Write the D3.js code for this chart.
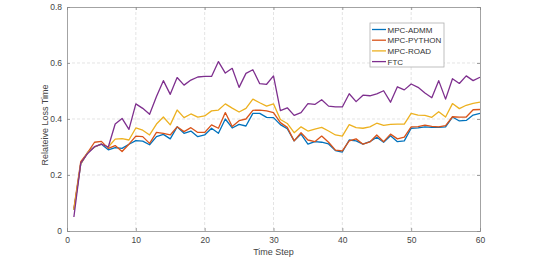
<!DOCTYPE html>
<html lang="en">
<head>
<meta charset="utf-8" />
<script src="https://d3js.org/d3.v7.min.js"></script>
<style>
  body { margin: 0; background: #fff; }
  svg text { font-family: "Liberation Sans", Arial, sans-serif; fill: #444; }
</style>
</head>
<body>
<svg id="chart" width="534" height="275"></svg>
<script>
// values, time steps 1..60
const steps = d3.range(1, 61);
const mpcAdmm = [0.075,0.24,0.28,0.30,0.31,0.29,0.298,0.295,0.31,0.323,
  0.321,0.308,0.337,0.345,0.329,0.372,0.349,0.357,0.337,0.343,
  0.367,0.349,0.40,0.368,0.381,0.375,0.42,0.42,0.406,0.405,
  0.38,0.365,0.322,0.346,0.31,0.319,0.317,0.311,0.287,0.282,
  0.325,0.322,0.31,0.319,0.335,0.317,0.34,0.319,0.322,0.367,
  0.368,0.372,0.370,0.370,0.372,0.407,0.393,0.395,0.414,0.42];
const mpcPython = [0.08,0.248,0.28,0.317,0.32,0.295,0.305,0.284,0.31,0.339,
  0.337,0.313,0.352,0.349,0.343,0.372,0.355,0.369,0.352,0.352,
  0.379,0.367,0.423,0.373,0.394,0.40,0.431,0.432,0.429,0.423,
  0.387,0.37,0.322,0.351,0.325,0.319,0.339,0.317,0.289,0.286,
  0.322,0.329,0.31,0.318,0.343,0.319,0.346,0.329,0.335,0.372,
  0.373,0.378,0.374,0.372,0.376,0.408,0.407,0.407,0.433,0.434];
const mpcRoad = [0.075,0.24,0.28,0.30,0.31,0.30,0.328,0.33,0.325,0.368,
  0.36,0.343,0.382,0.407,0.379,0.432,0.405,0.418,0.407,0.411,
  0.429,0.432,0.454,0.439,0.425,0.438,0.471,0.458,0.446,0.454,
  0.398,0.384,0.351,0.372,0.357,0.364,0.37,0.357,0.343,0.339,
  0.38,0.369,0.367,0.372,0.385,0.377,0.381,0.382,0.382,0.42,
  0.414,0.413,0.406,0.426,0.407,0.455,0.437,0.449,0.456,0.46];
const ftc = [0.05,0.242,0.277,0.301,0.31,0.30,0.382,0.402,0.363,0.454,
  0.438,0.417,0.48,0.537,0.488,0.548,0.521,0.539,0.55,0.552,
  0.552,0.605,0.564,0.581,0.513,0.563,0.576,0.526,0.524,0.554,
  0.43,0.44,0.413,0.423,0.455,0.452,0.469,0.446,0.443,0.443,
  0.49,0.462,0.485,0.483,0.49,0.501,0.46,0.515,0.504,0.525,
  0.513,0.493,0.476,0.537,0.471,0.544,0.527,0.554,0.537,0.549];

const seriesNames = ["MPC-ADMM", "MPC-PYTHON", "MPC-ROAD", "FTC"];
const seriesValues = [mpcAdmm, mpcPython, mpcRoad, ftc];
const seriesColors = ["#0072BD", "#D95319", "#EDB120", "#7E2F8E"];
const xTicks = [0, 10, 20, 30, 40, 50, 60];
const yTicks = [0, 0.2, 0.4, 0.6, 0.8];

const svg = d3.select("#chart");
const margin = {top: 7, right: 54, bottom: 44, left: 67};
const w = 534 - margin.left - margin.right;
const h = 275 - margin.top - margin.bottom;
const g = svg.append("g").attr("transform", "translate(" + margin.left + "," + margin.top + ")");

const x = d3.scaleLinear().domain([0, 60]).range([0, w]);
const y = d3.scaleLinear().domain([0, 0.8]).range([h, 0]);

// grid
g.append("g").selectAll("line.vg").data(xTicks.slice(1, -1)).join("line")
  .attr("x1", d => x(d)).attr("x2", d => x(d)).attr("y1", 0).attr("y2", h)
  .attr("stroke", "#d9d9d9").attr("stroke-width", 0.7).attr("stroke-dasharray", "3,2");
g.append("g").selectAll("line.hg").data(yTicks.slice(1, -1)).join("line")
  .attr("x1", 0).attr("x2", w).attr("y1", d => y(d)).attr("y2", d => y(d))
  .attr("stroke", "#d9d9d9").attr("stroke-width", 0.7).attr("stroke-dasharray", "3,2");

// axes (ticks inward like matlab)
const bottomAxis = d3.axisBottom(x).tickValues(xTicks).tickSize(-3).tickPadding(6).tickFormat(d3.format("d"));
const leftAxis = d3.axisLeft(y).tickValues(yTicks).tickSize(-3).tickPadding(5).tickFormat(d => d === 0 ? "0" : d3.format(".1f")(d));
const topAxis = d3.axisTop(x).tickValues(xTicks).tickSize(-3).tickFormat("");
const rightAxis = d3.axisRight(y).tickValues(yTicks).tickSize(-3).tickFormat("");

[[bottomAxis, "translate(0," + h + ")"], [leftAxis, null], [topAxis, null], [rightAxis, "translate(" + w + ",0)"]]
  .forEach(([ax, tr]) => {
    const a = g.append("g").call(ax);
    if (tr) a.attr("transform", tr);
    a.selectAll("path.domain").attr("stroke", "#8c8c8c").attr("stroke-width", 0.8);
    a.selectAll("line").attr("stroke", "#8c8c8c").attr("stroke-width", 0.8);
    a.selectAll("text").attr("font-size", 8.5).style("fill", "#444");
  });

// lines
const line = d3.line().x((d, i) => x(steps[i])).y(d => y(d));
seriesValues.forEach((vals, k) => {
  g.append("path").datum(vals)
    .attr("d", line)
    .attr("fill", "none")
    .attr("stroke", seriesColors[k])
    .attr("stroke-width", 1.3)
    .attr("stroke-linejoin", "round");
});

// axis labels
svg.append("text")
  .attr("x", margin.left + w / 2).attr("y", 255)
  .attr("text-anchor", "middle").attr("font-size", 9)
  .text("Time Step");
svg.append("text")
  .attr("transform", "translate(48," + (margin.top + h / 2 + 6) + ") rotate(-90)")
  .attr("text-anchor", "middle").attr("font-size", 9)
  .text("Relateive Loss Time");

// legend
const lg = svg.append("g").attr("transform", "translate(370,23)");
lg.append("rect").attr("width", 74).attr("height", 44)
  .attr("fill", "#fff").attr("stroke", "#b0b0b0").attr("stroke-width", 0.8);
seriesNames.forEach((name, k) => {
  const yy = 6.5 + k * 10.7;
  lg.append("line").attr("x1", 2).attr("x2", 16).attr("y1", yy).attr("y2", yy)
    .attr("stroke", seriesColors[k]).attr("stroke-width", 1.3);
  lg.append("text").attr("x", 17.5).attr("y", yy + 3).attr("font-size", 8)
    .style("fill", "#333").text(name);
});
</script>
</body>
</html>
